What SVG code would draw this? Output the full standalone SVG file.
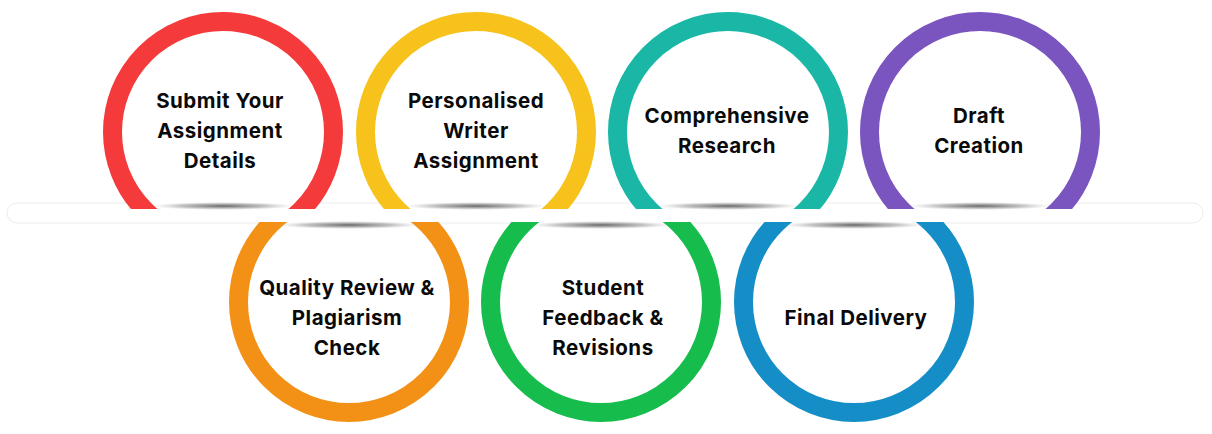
<svg xmlns="http://www.w3.org/2000/svg" width="1212" height="434" viewBox="0 0 1212 434">
<style>
.ring{fill:#ffffff;stroke-width:19}
.lbl{font-family:Inter,"Open Sans","Liberation Sans",sans-serif;font-weight:700;font-size:20.5px;fill:#0a0a0a;text-anchor:middle;letter-spacing:0.5px}
.sh{fill:url(#shg)}
</style>
<defs>
<clipPath id="topclip"><rect x="0" y="0" width="1212" height="209"/></clipPath>
<clipPath id="botclip"><rect x="0" y="222" width="1212" height="212"/></clipPath>
<radialGradient id="shg" cx="0.5" cy="0.5" r="0.5">
<stop offset="0" stop-color="#555" stop-opacity="0.9"/>
<stop offset="0.6" stop-color="#888" stop-opacity="0.5"/>
<stop offset="1" stop-color="#bbb" stop-opacity="0"/>
</radialGradient>
</defs>
<rect width="1212" height="434" fill="#ffffff"/>
<g id="band">
<rect x="7" y="203" width="1196" height="20" rx="10" fill="#ffffff" stroke="#ececec" stroke-width="1"/>
</g>
<g id="n1">
<circle class="ring" cx="223" cy="132" r="110.5" stroke="#F43A3B" clip-path="url(#topclip)"/>
<ellipse class="sh" cx="223" cy="206" rx="72" ry="4"/>
<text class="lbl" x="220" y="108">Submit Your</text>
<text class="lbl" x="220" y="138">Assignment</text>
<text class="lbl" x="220" y="168">Details</text>
</g>
<g id="n2">
<circle class="ring" cx="476" cy="132" r="110.5" stroke="#F6C21B" clip-path="url(#topclip)"/>
<ellipse class="sh" cx="476" cy="206" rx="72" ry="4"/>
<text class="lbl" x="476" y="108">Personalised</text>
<text class="lbl" x="476" y="138">Writer</text>
<text class="lbl" x="476" y="168">Assignment</text>
</g>
<g id="n3">
<circle class="ring" cx="728" cy="132" r="110.5" stroke="#1AB7A6" clip-path="url(#topclip)"/>
<ellipse class="sh" cx="728" cy="206" rx="72" ry="4"/>
<text class="lbl" x="727" y="123">Comprehensive</text>
<text class="lbl" x="727" y="153">Research</text>
</g>
<g id="n4">
<circle class="ring" cx="980" cy="132" r="110.5" stroke="#7A55BF" clip-path="url(#topclip)"/>
<ellipse class="sh" cx="980" cy="206" rx="72" ry="4"/>
<text class="lbl" x="979" y="123">Draft</text>
<text class="lbl" x="979" y="153">Creation</text>
</g>
<g id="n5">
<circle class="ring" cx="349" cy="302" r="110.5" stroke="#F39117" clip-path="url(#botclip)"/>
<ellipse class="sh" cx="349" cy="225" rx="72" ry="4"/>
<text class="lbl" x="347" y="295">Quality Review &amp;</text>
<text class="lbl" x="347" y="325">Plagiarism</text>
<text class="lbl" x="347" y="355">Check</text>
</g>
<g id="n6">
<circle class="ring" cx="601" cy="302" r="110.5" stroke="#16BC4C" clip-path="url(#botclip)"/>
<ellipse class="sh" cx="601" cy="225" rx="72" ry="4"/>
<text class="lbl" x="603" y="295">Student</text>
<text class="lbl" x="603" y="325">Feedback &amp;</text>
<text class="lbl" x="603" y="355">Revisions</text>
</g>
<g id="n7">
<circle class="ring" cx="854" cy="302" r="110.5" stroke="#158EC8" clip-path="url(#botclip)"/>
<ellipse class="sh" cx="854" cy="225" rx="72" ry="4"/>
<text class="lbl" x="856" y="325">Final Delivery</text>
</g>
</svg>
